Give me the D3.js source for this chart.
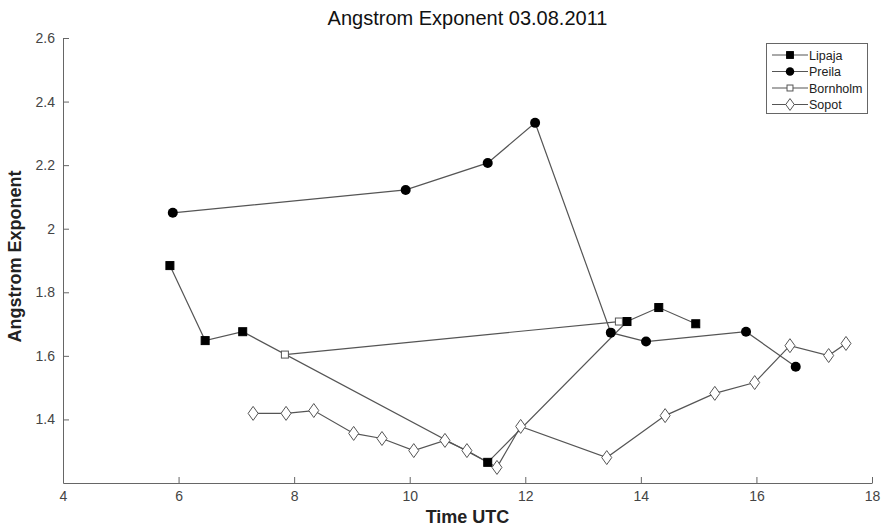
<!DOCTYPE html>
<html><head><meta charset="utf-8">
<script src="https://cdn.jsdelivr.net/npm/d3@7"></script>
<style>body{margin:0;background:#fff}svg{display:block}text{font-family:"Liberation Sans",Arial,sans-serif}</style>
</head><body>
<svg id="c" width="886" height="528"></svg>
<script>
const xTicks = [4,6,8,10,12,14,16,18];
const yTicks = [1.4,1.6,1.8,2,2.2,2.4,2.6];
const lipajaT = [5.85,6.46,7.11,11.35,13.76,14.31,14.95];
const lipajaV = [1.884,1.648,1.676,1.265,1.708,1.752,1.701];
const preilaT = [5.90,9.93,11.35,12.17,13.48,14.09,15.82,16.68];
const preilaV = [2.050,2.122,2.207,2.333,1.673,1.645,1.676,1.566];
const bornholmT = [7.84,13.62];
const bornholmV = [1.604,1.708];
const sopotT = [7.29,7.86,8.34,9.03,9.52,10.07,10.61,10.99,11.51,11.92,13.41,14.42,15.28,15.97,16.58,17.25,17.55];
const sopotV = [1.419,1.419,1.428,1.356,1.340,1.302,1.334,1.302,1.249,1.378,1.280,1.412,1.482,1.516,1.632,1.601,1.639];
const seriesNames = ["Lipaja","Preila","Bornholm","Sopot"];

const series = [
  {name:seriesNames[0], t:lipajaT, v:lipajaV, m:"sq", fill:"#000"},
  {name:seriesNames[1], t:preilaT, v:preilaV, m:"circle", fill:"#000"},
  {name:seriesNames[2], t:bornholmT, v:bornholmV, m:"sq", fill:"#fff"},
  {name:seriesNames[3], t:sopotT, v:sopotV, m:"diamond", fill:"#fff"}
];

const svg = d3.select("#c");
const L=63, R=872, T=38, B=483;
const x = d3.scaleLinear().domain([4,18]).range([L,R]);
const y = d3.scaleLinear().domain([1.2,2.6]).range([B,T]);
const axisColor="#666";

// axes
const xa = svg.append("g").attr("transform",`translate(0,${B})`)
  .call(d3.axisBottom(x).tickValues(xTicks).tickSizeInner(-6).tickSizeOuter(0).tickPadding(8).tickFormat(d3.format("d")));
const ya = svg.append("g").attr("transform",`translate(${L},0)`)
  .call(d3.axisLeft(y).tickValues(yTicks).tickSizeInner(-6).tickSizeOuter(0).tickPadding(8).tickFormat(d=>String(d)));
[xa,ya].forEach(a=>{
  a.selectAll("path").attr("stroke",axisColor);
  a.selectAll("line").attr("stroke",axisColor);
  a.selectAll("text").attr("fill","#444").attr("font-size",14).attr("font-family","'Liberation Sans',Arial,sans-serif");
});

// title & labels
svg.append("text").attr("x",(L+R)/2).attr("y",25).attr("text-anchor","middle").attr("font-size",20).attr("fill","#111").text("Angstrom Exponent 03.08.2011");
svg.append("text").attr("x",(L+R)/2).attr("y",523).attr("text-anchor","middle").attr("font-size",18).attr("font-weight","bold").attr("fill","#222").text("Time UTC");
svg.append("text").attr("transform",`translate(21,${(T+B)/2-4}) rotate(-90)`).attr("text-anchor","middle").attr("font-size",18).attr("font-weight","bold").attr("fill","#222").text("Angstrom Exponent");

function marker(g, m, fill, cx, cy, scale){
  scale = scale||1;
  if(m==="sq"){
    const s = (fill==="#000"?8:7)*scale;
    g.append("rect").attr("x",cx-s/2).attr("y",cy-s/2).attr("width",s).attr("height",s)
      .attr("fill",fill).attr("stroke",fill==="#000"?"#000":"#555").attr("stroke-width",1);
  } else if(m==="circle"){
    g.append("circle").attr("cx",cx).attr("cy",cy).attr("r",5*scale).attr("fill","#000");
  } else {
    const w=5*scale,h=7*scale;
    g.append("path").attr("d",`M${cx},${cy-h}L${cx+w},${cy}L${cx},${cy+h}L${cx-w},${cy}Z`)
      .attr("fill","#fff").attr("stroke","#555").attr("stroke-width",1);
  }
}

const line = d3.line().x(d=>x(d[0])).y(d=>y(d[1]));
series.forEach(s=>{
  const pts = s.t.map((t,i)=>[t,s.v[i]]);
  svg.append("path").attr("d",line(pts)).attr("fill","none").attr("stroke","#555").attr("stroke-width",1.2);
});
series.forEach(s=>{
  const g = svg.append("g");
  s.t.forEach((t,i)=>marker(g,s.m,s.fill,x(t),y(s.v[i])));
});

// legend
const lg = svg.append("g");
lg.append("rect").attr("x",766.5).attr("y",43.5).attr("width",101).attr("height",70).attr("fill","#fff").attr("stroke","#666");
series.forEach((s,i)=>{
  const yy = 55 + i*16.5;
  lg.append("line").attr("x1",772).attr("x2",808).attr("y1",yy).attr("y2",yy).attr("stroke","#555").attr("stroke-width",1.2);
  marker(lg,s.m,s.fill,790,yy,0.85);
  lg.append("text").attr("x",809).attr("y",yy+4.5).attr("font-size",12.5).attr("fill","#222").text(s.name);
});
</script>
</body></html>
